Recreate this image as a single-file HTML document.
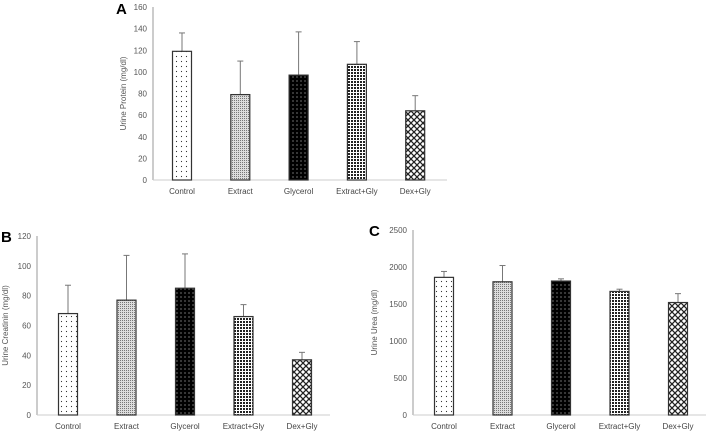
<!DOCTYPE html>
<html><head><meta charset="utf-8"><style>
body{margin:0;background:#fff;width:709px;height:432px;overflow:hidden}
svg{font-family:"Liberation Sans",sans-serif}
</style></head><body>
<svg id="s" width="709" height="432">
<defs>
<pattern id="p0" width="5" height="5" patternUnits="userSpaceOnUse"><rect width="5" height="5" fill="#fff"/><circle cx="1.5" cy="1.5" r="0.6" fill="#333"/></pattern>
<pattern id="p1" width="2" height="2" patternUnits="userSpaceOnUse"><rect width="2" height="2" fill="#ddd"/><rect width="1" height="1" fill="#777"/></pattern>
<pattern id="p2" width="4" height="4" patternUnits="userSpaceOnUse"><rect width="4" height="4" fill="#000"/><circle cx="1" cy="1" r="0.6" fill="#bbb"/></pattern>
<pattern id="p3" width="3" height="3" patternUnits="userSpaceOnUse"><rect width="3" height="3" fill="#fff"/><rect width="2" height="2" fill="#222"/></pattern>
<pattern id="p4" width="6" height="6" patternUnits="userSpaceOnUse"><rect width="6" height="6" fill="#fff"/><path d="M0,0L6,6M6,0L0,6" stroke="#222" stroke-width="1.3"/></pattern>
</defs>
</svg>
<script>
const categories=["Control","Extract","Glycerol","Extract+Gly","Dex+Gly"];
const proteinValues=[119,79,97,107,64];
const proteinErrors=[17,31,40,21,14];
const creatininValues=[68,77,85,66,37];
const creatininErrors=[19,30,23,8,5];
const ureaValues=[1860,1800,1810,1670,1520];
const ureaErrors=[80,220,30,30,120];
const proteinTicks=[0,20,40,60,80,100,120,140,160];
const creatininTicks=[0,20,40,60,80,100,120];
const ureaTicks=[0,500,1000,1500,2000,2500];
const svg=document.getElementById('s');
const NS='http://www.w3.org/2000/svg';
function mk(tag,at,parent){const e=document.createElementNS(NS,tag);for(const k in at)e.setAttribute(k,at[k]);(parent||svg).appendChild(e);return e;}
function chart(cfg){
  const g=mk('g',{});
  
  
  const max=cfg.ticks[cfg.ticks.length-1];
  const y=v=>cfg.y0-(v/max)*(cfg.y0-cfg.yTop);
  const x=i=>cfg.x1+i*cfg.step;
  const lt=mk('text',{x:cfg.lx,y:cfg.ly,'font-size':15,'font-weight':'bold',fill:'#000'},g);lt.textContent=cfg.letter;
  
  
  cfg.ticks.forEach(t=>{const tx=mk('text',{x:cfg.ax-6,y:y(t)+3,'font-size':8,fill:'#555','text-anchor':'end'},g);tx.textContent=t;
    
    });
  const yt=mk('text',{transform:`translate(${cfg.titleX},${(cfg.y0+cfg.yTop)/2}) rotate(-90)`,'font-size':8,fill:'#555','text-anchor':'middle'},g);yt.textContent=cfg.title;
  
  
  const ya=mk('line',{x1:cfg.ax,x2:cfg.ax,y1:cfg.yTop,y2:cfg.y0,stroke:'#999','stroke-width':1},g);
  
  
  const xa=mk('line',{x1:cfg.ax,x2:cfg.axEnd,y1:cfg.y0,y2:cfg.y0,stroke:'#ccc','stroke-width':1},g);
  
  
  categories.forEach((c,i)=>{
    const cx=x(i),v=cfg.vals[i],e=cfg.errs[i];
    const el=mk('line',{x1:cx,x2:cx,y1:y(v),y2:y(v+e),stroke:'#777','stroke-width':1},g);
    
    
    const cap=mk('line',{x1:cx-3,x2:cx+3,y1:y(v+e),y2:y(v+e),stroke:'#777','stroke-width':1},g);
    
    
    const r=mk('rect',{x:cx-9.5,y:y(v),width:19,height:cfg.y0-y(v),fill:`url(#p${i})`,stroke:'#333','stroke-width':1.2},g);
    
    
    const lb=mk('text',{x:cx,y:cfg.y0+14,'font-size':8,fill:'#444','text-anchor':'middle'},g);lb.textContent=c;
    
    
  });
}
chart({name:'chart-urine-protein',letter:'A',lx:116,ly:14,ax:153,axEnd:447,y0:180,yTop:7,x1:182,step:58.3,ticks:proteinTicks,vals:proteinValues,errs:proteinErrors,title:'Urine Protein (mg/dl)',titleX:126});
chart({name:'chart-urine-creatinine',letter:'B',lx:1,ly:242,ax:37,axEnd:330,y0:415,yTop:236,x1:68,step:58.5,ticks:creatininTicks,vals:creatininValues,errs:creatininErrors,title:'Urine Creatinin (mg/dl)',titleX:8});
chart({name:'chart-urine-urea',letter:'C',lx:369,ly:236,ax:413,axEnd:706,y0:415,yTop:230,x1:444,step:58.5,ticks:ureaTicks,vals:ureaValues,errs:ureaErrors,title:'Urine Urea (mg/dl)',titleX:377});
</script>
</body></html>
